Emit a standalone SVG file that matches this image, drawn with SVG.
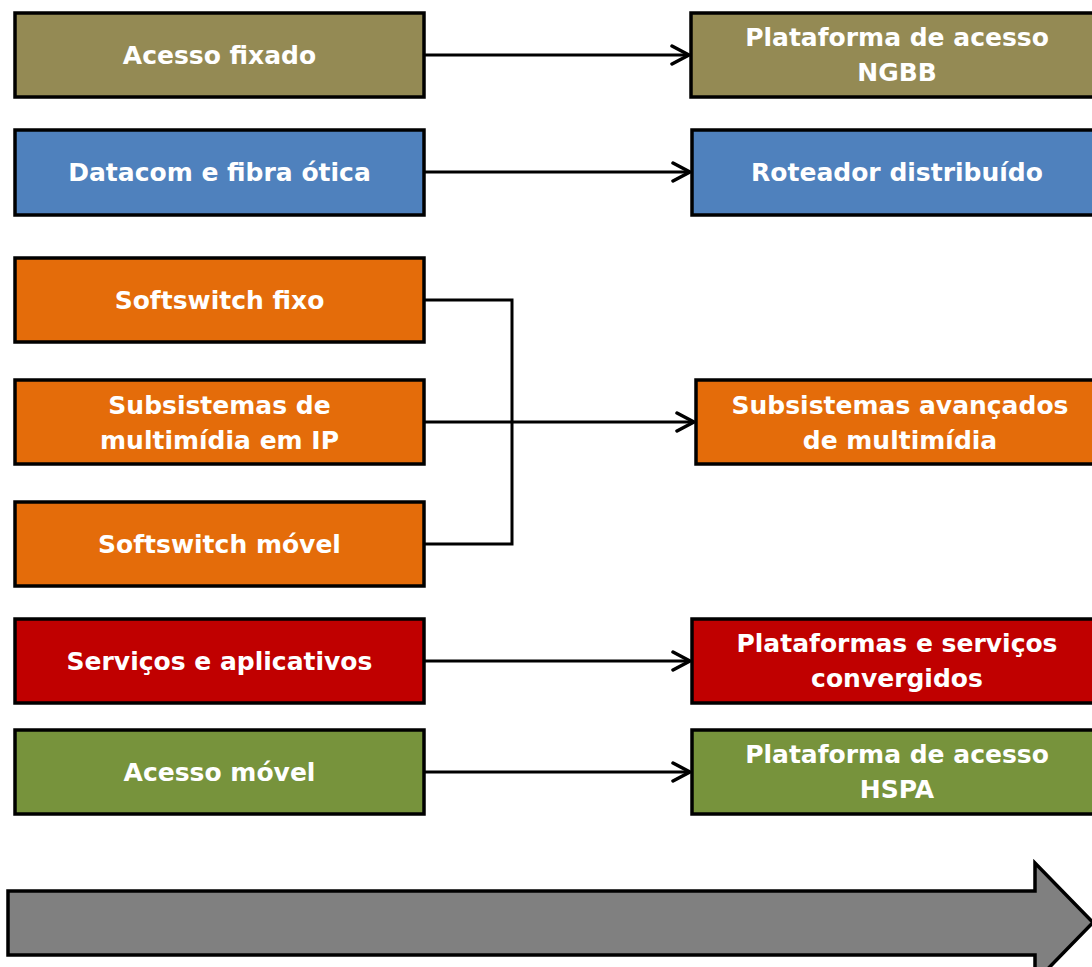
<svg xmlns="http://www.w3.org/2000/svg" width="1092" height="967" viewBox="0 0 1092 967">
  <style>
    .box { stroke: #000; stroke-width: 3.5; }
    .olive { fill: #948A54; }
    .blue { fill: #4F81BD; }
    .orange { fill: #E46C0A; }
    .red { fill: #C00000; }
    .green { fill: #77933C; }
    .lbl { fill: #fff; font-family: "DejaVu Sans", "Liberation Sans", sans-serif; font-size: 25px; font-weight: bold; text-anchor: middle; }
    .conn { fill: none; stroke: #000; stroke-width: 3; }
  </style>
  <defs>
    <marker id="chev" markerUnits="userSpaceOnUse" markerWidth="24" markerHeight="24" refX="19" refY="12" orient="auto">
      <path d="M2,3 L19,12 L2,21" fill="none" stroke="#000" stroke-width="3.5" stroke-linecap="round" stroke-linejoin="round"/>
    </marker>
  </defs>
  <rect width="1092" height="967" fill="#fff"/>

  <!-- left column -->
  <g id="acesso-fixado">
    <rect class="box olive" x="15" y="13" width="409" height="84"/>
    <text class="lbl" x="219.5" y="64">Acesso fixado</text>
  </g>
  <g id="datacom">
    <rect class="box blue" x="15" y="130" width="409" height="85"/>
    <text class="lbl" x="219.5" y="181">Datacom e fibra ótica</text>
  </g>
  <g id="softswitch-fixo">
    <rect class="box orange" x="15" y="258" width="409" height="84"/>
    <text class="lbl" x="219.5" y="309">Softswitch fixo</text>
  </g>
  <g id="subsistemas-ip">
    <rect class="box orange" x="15" y="380" width="409" height="84"/>
    <text class="lbl" x="219.5" y="414">Subsistemas de</text>
    <text class="lbl" x="219.5" y="449">multimídia em IP</text>
  </g>
  <g id="softswitch-movel">
    <rect class="box orange" x="15" y="502" width="409" height="84"/>
    <text class="lbl" x="219.5" y="553">Softswitch móvel</text>
  </g>
  <g id="servicos">
    <rect class="box red" x="15" y="619" width="409" height="84"/>
    <text class="lbl" x="219.5" y="670">Serviços e aplicativos</text>
  </g>
  <g id="acesso-movel">
    <rect class="box green" x="15" y="730" width="409" height="84"/>
    <text class="lbl" x="219.5" y="781">Acesso móvel</text>
  </g>

  <!-- right column -->
  <g id="ngbb">
    <rect class="box olive" x="691" y="13" width="409" height="84"/>
    <text class="lbl" x="897" y="46">Plataforma de acesso</text>
    <text class="lbl" x="897" y="81">NGBB</text>
  </g>
  <g id="roteador">
    <rect class="box blue" x="692" y="130" width="409" height="85"/>
    <text class="lbl" x="897" y="181">Roteador distribuído</text>
  </g>
  <g id="subsistemas-avancados">
    <rect class="box orange" x="696" y="380" width="409" height="84"/>
    <text class="lbl" x="900" y="414">Subsistemas avançados</text>
    <text class="lbl" x="900" y="449">de multimídia</text>
  </g>
  <g id="plataformas-convergidas">
    <rect class="box red" x="692" y="619" width="409" height="84"/>
    <text class="lbl" x="897" y="652">Plataformas e serviços</text>
    <text class="lbl" x="897" y="687">convergidos</text>
  </g>
  <g id="hspa">
    <rect class="box green" x="692" y="730" width="409" height="84"/>
    <text class="lbl" x="897" y="763">Plataforma de acesso</text>
    <text class="lbl" x="897" y="798">HSPA</text>
  </g>

  <!-- connectors -->
  <g id="connectors">
    <line class="conn" x1="425" y1="55" x2="689" y2="55" marker-end="url(#chev)"/>
    <line class="conn" x1="425" y1="172" x2="690" y2="172" marker-end="url(#chev)"/>
    <polyline class="conn" points="425,300 512,300 512,544 425,544"/>
    <line class="conn" x1="425" y1="422" x2="694" y2="422" marker-end="url(#chev)"/>
    <line class="conn" x1="425" y1="661" x2="690" y2="661" marker-end="url(#chev)"/>
    <line class="conn" x1="425" y1="772" x2="690" y2="772" marker-end="url(#chev)"/>
  </g>

  <!-- timeline arrow -->
  <g id="timeline">
    <path d="M8,891 L1035,891 L1035,863 L1093,922.5 L1035,982 L1035,955 L8,955 Z" fill="#808080" stroke="#000" stroke-width="3.5" stroke-linejoin="miter"/>
  </g>
</svg>
